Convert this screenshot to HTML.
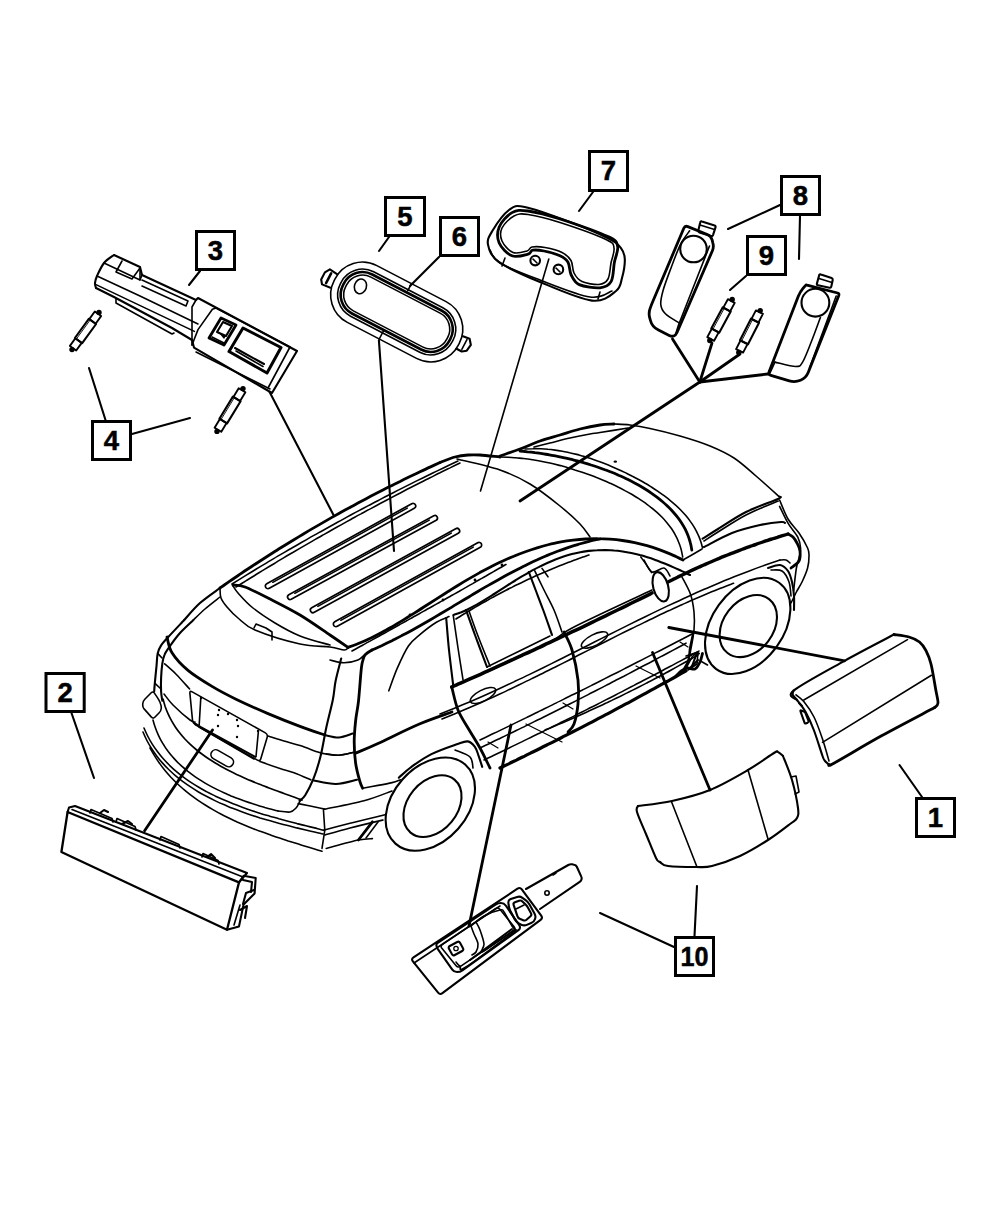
<!DOCTYPE html>
<html><head><meta charset="utf-8"><style>
html,body{margin:0;padding:0;background:#fff;width:1000px;height:1214px;overflow:hidden}
svg{display:block}
.t{fill:none;stroke:#000;stroke-width:1.6;stroke-linecap:round;stroke-linejoin:round}
.m{fill:none;stroke:#000;stroke-width:2.1;stroke-linecap:round;stroke-linejoin:round}
.k{fill:none;stroke:#000;stroke-width:2.8;stroke-linecap:round;stroke-linejoin:round}
.w{fill:#fff;stroke:#000;stroke-width:1.3;stroke-linejoin:round}
.box{fill:#fff;stroke:#000;stroke-width:3}
.lbl{font-family:"Liberation Sans",sans-serif;font-weight:bold;font-size:27.5px;text-anchor:middle;stroke:#000;stroke-width:0.5}
</style></head><body>
<svg width="1000" height="1214" viewBox="0 0 1000 1214">
<path class="m" d="M200.0,271.0 L189.0,285.0"/>
<path class="m" d="M389.0,237.0 L379.0,251.0"/>
<path class="m" d="M439.0,257.0 L410.0,286.0"/>
<path class="m" d="M593.0,192.0 L579.0,211.0"/>
<path class="m" d="M780.0,205.0 L728.0,229.0"/>
<path class="m" d="M800.0,216.0 L799.0,259.0"/>
<path class="m" d="M746.0,276.0 L730.0,290.0"/>
<path class="m" d="M105.5,420.0 L89.0,368.0"/>
<path class="m" d="M132.0,434.0 L190.0,418.0"/>
<path class="m" d="M71.5,713.0 L94.0,778.0"/>
<path class="m" d="M922.0,797.0 L899.5,765.0"/>
<path class="m" d="M674.0,947.0 L600.0,913.0"/>
<path class="m" d="M694.5,936.0 L697.0,886.0"/>
<rect class="box" x="916.5" y="798.5" width="38.0" height="38.0"/>
<text class="lbl" x="935.5" y="826.8">1</text>
<rect class="box" x="46.0" y="673.5" width="38.2" height="38.0"/>
<text class="lbl" x="65.1" y="701.8">2</text>
<rect class="box" x="196.5" y="231.5" width="38.0" height="38.0"/>
<text class="lbl" x="215.5" y="259.8">3</text>
<rect class="box" x="92.5" y="421.5" width="38.0" height="38.0"/>
<text class="lbl" x="111.5" y="449.8">4</text>
<rect class="box" x="385.5" y="197.5" width="39.0" height="38.0"/>
<text class="lbl" x="405.0" y="225.8">5</text>
<rect class="box" x="440.5" y="217.5" width="38.0" height="38.0"/>
<text class="lbl" x="459.5" y="245.8">6</text>
<rect class="box" x="589.5" y="151.5" width="38.0" height="39.0"/>
<text class="lbl" x="608.5" y="180.3">7</text>
<rect class="box" x="781.5" y="176.5" width="38.0" height="38.0"/>
<text class="lbl" x="800.5" y="204.8">8</text>
<rect class="box" x="747.5" y="236.5" width="38.0" height="38.0"/>
<text class="lbl" x="766.5" y="264.8">9</text>
<rect class="box" x="675.5" y="937.5" width="38.0" height="38.0"/>
<text class="lbl" x="694.5" y="965.8" textLength="28" lengthAdjust="spacingAndGlyphs">10</text>
<path class="m" d="M184.2,620.0 C186.8,617.2 194.0,608.3 200.0,603.0 C206.0,597.7 216.7,590.5 220.0,588.0"/>
<path class="k" d="M220.0,588.0 C221.5,586.9 226.1,583.8 229.1,581.7 C232.1,579.6 235.2,577.5 238.2,575.5 C241.3,573.4 244.3,571.3 247.4,569.3 C250.5,567.3 253.5,565.2 256.6,563.2 C259.7,561.2 262.8,559.2 265.9,557.2 C269.0,555.2 272.1,553.3 275.2,551.3 C278.3,549.3 281.4,547.4 284.5,545.5 C287.7,543.5 290.8,541.6 293.9,539.7 C297.1,537.8 300.2,535.9 303.4,534.0 C306.5,532.1 309.7,530.2 312.8,528.4 C316.0,526.5 319.2,524.7 322.4,522.9 C325.5,521.0 328.7,519.2 331.9,517.4 C335.1,515.6 338.3,513.8 341.5,512.0 C344.8,510.2 348.0,508.5 351.2,506.7 C354.4,505.0 357.6,503.2 360.9,501.5 C364.1,499.8 367.4,498.0 370.6,496.3 C373.9,494.6 377.1,493.0 380.4,491.3 C383.7,489.6 386.9,487.9 390.2,486.3 C393.5,484.6 396.8,483.0 400.1,481.4 C403.4,479.7 406.7,478.1 410.0,476.5 C413.3,474.9 416.6,473.4 420.0,471.8 C423.3,470.2 426.6,468.6 430.0,467.1 C433.3,465.6 438.3,463.3 440.0,462.5"/>
<path class="k" d="M440.0,462.5 C442.5,461.6 450.3,458.2 455.0,457.0 C459.7,455.8 463.8,455.3 468.0,455.0 C472.2,454.7 474.7,454.7 480.0,455.0 C485.3,455.3 496.7,456.7 500.0,457.0"/>
<path class="t" d="M232.0,584.0 C233.6,583.0 238.4,580.0 241.5,578.1 C244.7,576.1 247.9,574.2 251.1,572.2 C254.3,570.3 257.5,568.3 260.7,566.4 C263.9,564.5 267.1,562.6 270.3,560.6 C273.5,558.7 276.7,556.8 280.0,554.9 C283.2,553.0 286.4,551.2 289.6,549.3 C292.9,547.4 296.1,545.5 299.3,543.7 C302.6,541.8 305.8,540.0 309.0,538.1 C312.3,536.3 315.5,534.4 318.8,532.6 C322.0,530.8 325.3,529.0 328.6,527.2 C331.8,525.4 335.1,523.6 338.4,521.8 C341.6,520.0 344.9,518.2 348.2,516.4 C351.5,514.6 354.8,512.9 358.0,511.1 C361.3,509.4 364.6,507.6 367.9,505.9 C371.2,504.1 374.5,502.4 377.8,500.7 C381.1,499.0 384.4,497.2 387.8,495.5 C391.1,493.8 394.4,492.1 397.7,490.4 C401.0,488.8 404.4,487.1 407.7,485.4 C411.0,483.7 414.4,482.1 417.7,480.4 C421.0,478.8 424.4,477.1 427.7,475.5 C431.1,473.9 434.4,472.2 437.8,470.6 C441.2,469.0 444.5,467.4 447.9,465.8 C451.3,464.2 456.3,461.8 458.0,461.0"/>
<path class="t" d="M236.0,587.0 C237.6,586.0 242.3,583.1 245.5,581.1 C248.6,579.1 251.8,577.2 255.0,575.2 C258.1,573.3 261.3,571.4 264.5,569.4 C267.7,567.5 270.8,565.6 274.0,563.7 C277.2,561.7 280.4,559.8 283.6,557.9 C286.8,556.0 290.0,554.1 293.2,552.3 C296.4,550.4 299.6,548.5 302.8,546.6 C306.0,544.8 309.2,542.9 312.4,541.1 C315.6,539.2 318.9,537.4 322.1,535.5 C325.3,533.7 328.6,531.9 331.8,530.0 C335.0,528.2 338.3,526.4 341.5,524.6 C344.7,522.8 348.0,521.0 351.2,519.2 C354.5,517.4 357.7,515.6 361.0,513.9 C364.3,512.1 367.5,510.3 370.8,508.6 C374.1,506.8 377.3,505.1 380.6,503.3 C383.9,501.6 387.2,499.8 390.4,498.1 C393.7,496.4 397.0,494.7 400.3,493.0 C403.6,491.2 406.9,489.5 410.2,487.8 C413.5,486.1 416.8,484.5 420.1,482.8 C423.4,481.1 426.7,479.4 430.0,477.8 C433.4,476.1 436.7,474.4 440.0,472.8 C443.3,471.1 446.7,469.5 450.0,467.9 C453.3,466.2 458.3,463.8 460.0,463.0"/>
<path class="t" d="M193.4,620.0 C195.3,618.2 200.6,612.8 205.0,609.0 C209.4,605.2 217.5,599.0 220.0,597.0"/>
<path d="M269.3,588.3 L414.3,508.3 A2.6,2.6 0 0 0 411.7,503.7 L266.7,583.7 A2.6,2.6 0 0 0 269.3,588.3 Z" style="fill:#fff;stroke:#000;stroke-width:1.7"/>
<path class="t" d="M272.8,582.3 L407.3,508.1" style="stroke-width:1.5"/>
<path d="M291.2,599.3 L436.2,520.3 A2.6,2.6 0 0 0 433.8,515.7 L288.8,594.7 A2.6,2.6 0 0 0 291.2,599.3 Z" style="fill:#fff;stroke:#000;stroke-width:1.7"/>
<path class="t" d="M294.8,593.3 L429.3,520.1" style="stroke-width:1.5"/>
<path d="M314.3,612.3 L458.3,533.3 A2.6,2.6 0 0 0 455.7,528.7 L311.7,607.7 A2.6,2.6 0 0 0 314.3,612.3 Z" style="fill:#fff;stroke:#000;stroke-width:1.7"/>
<path class="t" d="M317.8,606.3 L451.3,533.1" style="stroke-width:1.5"/>
<path d="M337.3,626.3 L480.3,547.3 A2.6,2.6 0 0 0 477.7,542.7 L334.7,621.7 A2.6,2.6 0 0 0 337.3,626.3 Z" style="fill:#fff;stroke:#000;stroke-width:1.7"/>
<path class="t" d="M340.8,620.3 L473.3,547.1" style="stroke-width:1.5"/>
<path class="k" d="M233.0,585.0 C235.0,585.3 239.2,584.8 245.0,587.0 C250.8,589.2 258.8,593.3 268.0,598.0 C277.2,602.7 289.7,608.8 300.0,615.0 C310.3,621.2 322.0,629.6 330.0,635.0 C338.0,640.4 345.0,645.3 348.0,647.4"/>
<path class="t" d="M220.0,588.0 C220.2,589.7 219.8,594.8 221.0,598.0 C222.2,601.2 224.2,603.7 227.0,607.0 C229.8,610.3 233.3,614.2 238.0,618.0 C242.7,621.8 244.7,625.7 255.0,630.0 C265.3,634.3 287.5,641.2 300.0,644.0 C312.5,646.8 322.7,646.0 330.0,647.0 C337.3,648.0 341.0,649.8 344.0,650.0 C347.0,650.2 347.3,648.3 348.0,648.0"/>
<path class="t" d="M233.0,586.0 C233.8,587.2 234.7,589.3 238.0,593.0 C241.3,596.7 246.8,603.0 253.0,608.0 C259.2,613.0 267.2,618.3 275.0,623.0 C282.8,627.7 290.8,632.3 300.0,636.0 C309.2,639.7 325.0,643.5 330.0,645.0"/>
<path class="t" d="M254.0,628.0 L256.0,624.0 L266.0,628.0 L272.0,632.0 L272.0,640.0"/>
<path class="t" d="M330.0,660.0 C332.3,660.5 339.3,662.8 344.0,662.8 C348.7,662.8 354.5,661.4 358.0,660.0 C361.5,658.6 363.8,655.3 365.0,654.4"/>
<path class="k" d="M167.0,637.0 C167.8,639.6 168.5,647.2 172.0,652.8 C175.5,658.4 181.3,664.8 188.0,670.4 C194.7,676.0 204.0,681.6 212.0,686.4 C220.0,691.2 226.7,694.7 236.0,699.2 C245.3,703.7 257.3,709.1 268.0,713.6 C278.7,718.1 290.5,722.8 300.0,726.4 C309.5,730.0 320.7,733.6 324.8,735.0"/>
<path class="m" d="M324.8,735.0 C327.1,735.4 334.1,737.7 338.8,737.5 C343.5,737.3 350.5,734.2 352.8,733.6"/>
<path class="m" d="M184.2,620.0 C181.5,622.9 171.8,633.1 168.0,637.3 C164.2,641.5 162.8,642.7 161.1,645.4 C159.4,648.1 158.5,649.9 157.7,653.4 C156.9,656.9 157.0,661.1 156.5,666.1 C156.0,671.1 155.2,679.2 154.8,683.4 C154.4,687.6 154.3,690.1 154.2,691.5"/>
<path class="m" d="M193.4,620.0 C191.2,622.2 183.8,628.8 180.0,633.0 C176.2,637.2 173.0,641.8 170.4,645.4 C167.8,649.0 165.9,651.5 164.6,654.6 C163.2,657.7 162.9,659.9 162.3,663.8 C161.7,667.6 161.3,673.1 161.1,677.7 C160.9,682.3 160.9,687.7 161.1,691.5 C161.3,695.3 162.1,699.2 162.3,700.7"/>
<path class="t" d="M157.7,653.4 L162.0,658.0"/>
<path class="t" d="M155.0,683.4 L161.0,689.0"/>
<path class="t" d="M154.4,693.1 Q153.0,691.0 151.2,692.8 L144.8,699.2 Q143.0,701.0 142.8,703.5 L142.7,704.5 Q142.5,707.0 144.1,708.9 L151.4,717.1 Q153.0,719.0 154.8,717.2 L159.2,712.8 Q161.0,711.0 161.2,708.5 L161.3,708.5 Q161.5,706.0 160.5,703.7 L160.0,702.3 Q159.0,700.0 157.6,697.9Z"/>
<path class="t" d="M164.6,663.8 C166.5,665.5 171.9,670.0 176.1,674.2 C180.3,678.4 187.3,686.5 189.6,689.0"/>
<path class="t" d="M268.0,736.0 C270.7,736.8 278.7,739.4 284.0,741.0 C289.3,742.6 294.3,743.8 300.0,745.6 C305.7,747.4 313.7,750.6 318.0,752.0 C322.3,753.4 322.5,753.5 326.0,754.0 C329.5,754.5 334.3,755.5 338.8,755.3 C343.3,755.0 350.5,753.0 352.8,752.5"/>
<path class="t" d="M164.0,694.0 C165.5,695.8 168.7,700.7 173.0,705.0 C177.3,709.3 186.3,717.2 190.0,720.0 C193.7,722.8 194.2,721.7 195.0,722.0"/>
<path class="t" d="M260.0,761.6 C263.3,762.8 274.3,766.7 280.0,768.6 C285.7,770.5 288.9,770.9 294.0,772.8 C299.1,774.7 308.0,778.6 310.8,779.8"/>
<path class="m" d="M163.0,699.0 C163.4,700.3 164.4,704.2 165.2,706.7 C166.1,709.1 167.0,711.5 168.1,713.9 C169.1,716.2 170.3,718.5 171.5,720.7 C172.7,722.9 174.1,725.1 175.5,727.2 C176.9,729.3 178.4,731.3 180.0,733.2 C181.5,735.2 183.2,737.1 184.9,739.0 C186.6,740.8 188.4,742.6 190.3,744.4 C192.1,746.1 194.1,747.8 196.1,749.5 C198.0,751.1 200.1,752.7 202.2,754.2 C204.3,755.8 206.4,757.3 208.6,758.8 C210.8,760.2 213.0,761.6 215.3,763.0 C217.5,764.4 219.9,765.7 222.2,767.0 C224.5,768.3 226.9,769.6 229.3,770.8 C231.7,772.0 234.1,773.2 236.6,774.4 C239.0,775.5 241.5,776.6 243.9,777.7 C246.4,778.8 248.9,779.9 251.3,780.9 C253.8,782.0 256.3,783.0 258.8,784.0 C261.3,785.0 263.8,785.9 266.3,786.9 C268.7,787.8 271.2,788.8 273.7,789.7 C276.1,790.6 278.6,791.5 281.0,792.4 C283.4,793.3 285.8,794.1 288.2,795.0 C290.5,795.8 292.9,796.7 295.2,797.5 C297.5,798.4 300.9,799.6 302.0,800.0" style="stroke-width:1.7"/>
<path class="t" d="M153.0,720.0 C153.3,721.2 154.3,724.7 155.1,727.0 C155.9,729.2 156.7,731.4 157.7,733.6 C158.6,735.7 159.6,737.8 160.7,739.9 C161.8,741.9 163.0,743.9 164.3,745.8 C165.5,747.8 166.8,749.6 168.2,751.5 C169.6,753.3 171.0,755.1 172.5,756.8 C174.0,758.6 175.6,760.2 177.2,761.9 C178.9,763.5 180.5,765.1 182.3,766.7 C184.0,768.2 185.8,769.7 187.6,771.2 C189.4,772.6 191.3,774.0 193.2,775.4 C195.1,776.8 197.1,778.1 199.1,779.4 C201.1,780.7 203.1,781.9 205.1,783.1 C207.2,784.3 209.3,785.5 211.4,786.6 C213.5,787.8 215.7,788.9 217.8,789.9 C220.0,791.0 222.2,792.0 224.4,793.0 C226.6,794.0 228.8,794.9 231.0,795.9 C233.3,796.8 235.5,797.7 237.8,798.5 C240.0,799.4 242.3,800.2 244.5,801.0 C246.8,801.8 249.1,802.6 251.3,803.3 C253.6,804.1 255.8,804.8 258.1,805.5 C260.3,806.2 262.6,806.8 264.8,807.5 C267.0,808.1 269.3,808.7 271.5,809.3 C273.7,809.9 276.9,810.7 278.0,811.0"/>
<path class="t" d="M278.0,811.0 C280.0,811.2 287.0,812.5 290.0,812.0 C293.0,811.5 294.3,809.8 296.0,808.0 C297.7,806.2 299.3,802.2 300.0,801.0"/>
<path class="t" d="M144.0,728.0 C144.6,729.4 146.5,733.7 147.9,736.5 C149.3,739.2 150.8,741.8 152.4,744.4 C154.0,747.0 155.8,749.4 157.6,751.8 C159.4,754.2 161.3,756.6 163.3,758.8 C165.3,761.1 167.4,763.2 169.5,765.3 C171.7,767.4 173.9,769.5 176.2,771.4 C178.5,773.4 180.9,775.3 183.4,777.1 C185.8,778.9 188.3,780.7 190.9,782.4 C193.5,784.1 196.1,785.7 198.8,787.3 C201.5,788.9 204.3,790.4 207.0,791.9 C209.8,793.4 212.7,794.8 215.5,796.2 C218.4,797.5 221.3,798.9 224.2,800.1 C227.2,801.4 230.1,802.6 233.1,803.8 C236.1,805.0 239.1,806.1 242.2,807.2 C245.2,808.3 248.3,809.4 251.3,810.4 C254.4,811.4 257.4,812.4 260.5,813.4 C263.6,814.4 266.7,815.3 269.7,816.2 C272.8,817.1 275.9,817.9 278.9,818.8 C282.0,819.6 285.0,820.4 288.0,821.2 C291.1,822.0 294.1,822.8 297.0,823.6 C300.0,824.3 303.0,825.1 305.9,825.8 C308.8,826.5 311.7,827.2 314.6,827.9 C317.4,828.6 321.6,829.7 323.0,830.0"/>
<path class="t" d="M143.0,732.0 C143.6,733.4 145.5,737.7 146.9,740.5 C148.3,743.2 149.9,745.9 151.5,748.5 C153.1,751.0 154.9,753.5 156.7,755.9 C158.5,758.3 160.4,760.7 162.4,762.9 C164.4,765.2 166.5,767.4 168.7,769.5 C170.9,771.6 173.1,773.7 175.4,775.6 C177.8,777.6 180.2,779.5 182.6,781.4 C185.1,783.2 187.6,785.0 190.2,786.7 C192.8,788.4 195.4,790.1 198.1,791.7 C200.8,793.3 203.6,794.8 206.4,796.3 C209.2,797.8 212.0,799.2 214.9,800.6 C217.8,802.0 220.7,803.3 223.7,804.6 C226.6,805.8 229.6,807.1 232.6,808.3 C235.6,809.5 238.6,810.6 241.7,811.7 C244.7,812.8 247.8,813.9 250.8,814.9 C253.9,815.9 257.0,816.9 260.1,817.9 C263.2,818.8 266.3,819.7 269.4,820.6 C272.4,821.5 275.5,822.4 278.6,823.2 C281.7,824.0 284.7,824.8 287.8,825.6 C290.8,826.4 293.8,827.1 296.8,827.9 C299.8,828.6 302.8,829.3 305.8,830.0 C308.7,830.7 311.6,831.4 314.5,832.0 C317.4,832.7 321.6,833.7 323.0,834.0"/>
<path class="t" d="M150.0,748.0 C150.8,749.3 153.0,753.4 154.6,755.9 C156.2,758.5 157.8,761.0 159.6,763.4 C161.3,765.9 163.1,768.2 165.0,770.5 C166.9,772.8 168.9,775.0 170.9,777.2 C172.9,779.3 175.0,781.4 177.1,783.5 C179.2,785.5 181.4,787.4 183.7,789.4 C185.9,791.3 188.2,793.1 190.5,794.9 C192.9,796.7 195.3,798.4 197.7,800.1 C200.2,801.8 202.7,803.4 205.2,805.0 C207.7,806.6 210.3,808.2 212.9,809.6 C215.5,811.1 218.1,812.6 220.8,814.0 C223.4,815.4 226.1,816.7 228.8,818.0 C231.6,819.4 234.3,820.6 237.1,821.9 C239.9,823.1 242.6,824.3 245.4,825.5 C248.3,826.7 251.1,827.8 253.9,828.9 C256.7,830.0 259.6,831.1 262.5,832.1 C265.3,833.2 268.2,834.2 271.0,835.2 C273.9,836.2 276.8,837.2 279.6,838.1 C282.5,839.1 285.4,840.0 288.2,840.9 C291.1,841.8 294.0,842.7 296.8,843.6 C299.6,844.5 302.5,845.3 305.3,846.2 C308.1,847.1 310.9,847.9 313.7,848.7 C316.5,849.6 320.6,850.8 322.0,851.2"/>
<path class="t" d="M298.2,803.6 C302.2,804.4 317.6,807.6 322.0,808.5 C326.4,809.4 324.3,809.1 324.8,809.2"/>
<path class="m" d="M313.6,780.5 C317.3,781.1 328.8,784.1 336.0,784.0 C343.2,783.9 353.5,780.5 357.0,779.8"/>
<path class="t" d="M326.2,753.9 C328.3,754.1 334.4,755.5 338.8,755.3 C343.2,755.1 350.5,753.0 352.8,752.5"/>
<path class="t" d="M323.4,809.2 L324.8,830.2 L322.0,848.4"/>
<path class="t" d="M324.8,809.2 C331.3,807.8 352.8,803.8 364.0,800.8 C375.2,797.8 387.3,792.6 392.0,791.0"/>
<path class="t" d="M323.4,830.2 C327.8,829.0 339.7,825.8 350.0,823.2 C360.3,820.6 379.2,816.2 385.0,814.8"/>
<path class="t" d="M325.0,835.0 C329.2,833.8 340.3,830.5 350.0,828.0 C359.7,825.5 377.5,821.3 383.0,820.0"/>
<path class="t" d="M326.2,848.4 C331.6,847.0 350.7,841.6 358.4,840.0 C366.1,838.4 370.1,838.8 372.4,838.6"/>
<path class="k" d="M358.4,840.0 L372.4,821.8"/>
<path class="t" d="M366.0,838.0 L378.0,822.0"/>
<path class="t" d="M189.9,693.4 Q189.6,690.4 192.2,691.9 L265.4,732.9 Q268.0,734.4 267.2,737.3 L260.8,758.7 Q260.0,761.6 257.4,760.1 L195.4,724.7 Q192.8,723.2 192.5,720.2Z"/>
<path class="t" d="M200.8,697.6 L199.2,724.8"/>
<path class="t" d="M258.4,731.2 L256.0,756.8"/>
<path class="m" d="M194.4,723.2 L200.8,727.2 L255.2,756.8"/>
<path class="t" d="M199.0,727.0 L254.0,759.0"/>
<circle cx="219" cy="710" r="1.2"/>
<circle cx="228" cy="714" r="1.2"/>
<circle cx="237" cy="720" r="1.2"/>
<circle cx="218" cy="715" r="1.2"/>
<circle cx="238" cy="726" r="1.2"/>
<circle cx="237" cy="737" r="1.2"/>
<circle cx="201" cy="698" r="1.2"/>
<circle cx="258" cy="731" r="1.2"/>
<circle cx="218" cy="726" r="1.2"/>
<rect class="t" x="210" y="753.5" width="24.5" height="9.5" rx="4.7" transform="rotate(30 222.2 758.2)"/>
<path class="m" d="M341.2,658.6 C340.3,662.3 337.0,674.1 335.6,681.0 C334.2,687.9 334.4,692.2 332.8,700.0 C331.2,707.8 328.2,718.7 326.2,728.0 C324.2,737.3 322.7,747.6 320.6,756.0 C318.5,764.4 316.2,771.9 313.6,778.4 C311.0,784.9 307.5,791.5 305.2,795.2 C302.9,798.9 300.5,799.9 299.6,800.8"/>
<path class="k" d="M362.6,788.2 C362.1,787.0 361.0,785.4 359.8,781.2 C358.6,777.0 356.5,769.5 355.6,763.0 C354.7,756.5 354.2,749.0 354.2,742.0 C354.2,735.0 354.9,727.7 355.6,721.0 C356.3,714.3 357.5,709.8 358.4,702.0 C359.3,694.2 360.2,680.5 360.8,674.0 C361.4,667.5 361.5,666.0 362.2,662.8 C362.9,659.6 363.4,657.1 365.0,655.0 C366.6,652.9 370.8,650.8 372.0,650.0"/>
<path class="k" d="M372.0,650.0 C373.7,649.2 378.7,647.0 382.1,645.5 C385.4,643.9 388.7,642.3 392.0,640.7 C395.3,639.0 398.6,637.4 401.8,635.6 C405.1,633.9 408.3,632.2 411.6,630.4 C414.8,628.6 418.1,626.8 421.3,625.0 C424.5,623.2 427.7,621.3 430.9,619.5 C434.1,617.6 437.3,615.7 440.5,613.8 C443.7,611.9 446.9,610.0 450.1,608.1 C453.2,606.2 456.4,604.3 459.6,602.4 C462.8,600.5 466.0,598.6 469.2,596.7 C472.3,594.8 475.5,592.9 478.7,591.0 C481.9,589.1 485.1,587.2 488.3,585.4 C491.5,583.5 494.7,581.7 498.0,579.9 C501.2,578.1 504.4,576.3 507.7,574.5 C510.9,572.8 514.2,571.1 517.4,569.4 C520.7,567.7 524.0,566.0 527.3,564.4 C530.6,562.8 533.9,561.3 537.3,559.8 C540.6,558.2 544.0,556.8 547.3,555.4 C550.7,554.0 554.1,552.6 557.6,551.3 C561.0,550.0 564.4,548.8 567.9,547.6 C571.4,546.4 574.9,545.3 578.4,544.3 C582.0,543.3 585.5,542.3 589.1,541.4 C592.7,540.5 598.2,539.4 600.0,539.0"/>
<path class="t" d="M362.6,788.2 C365.2,787.7 373.1,786.3 378.0,785.4 C382.9,784.5 388.3,783.5 392.0,782.6 C395.7,781.7 399.0,780.3 400.4,779.8"/>
<path class="k" d="M348.0,647.4 C349.9,646.7 355.8,644.6 359.6,643.0 C363.5,641.4 367.2,639.7 371.0,637.9 C374.7,636.1 378.4,634.2 382.1,632.2 C385.8,630.3 389.4,628.2 393.1,626.1 C396.7,624.0 400.3,621.8 403.9,619.6 C407.5,617.4 411.1,615.2 414.7,612.9 C418.3,610.6 421.9,608.3 425.4,606.0 C429.0,603.7 432.6,601.4 436.2,599.1 C439.8,596.8 443.4,594.5 447.0,592.2 C450.6,589.9 454.2,587.7 457.8,585.5 C461.5,583.2 465.1,581.0 468.8,578.9 C472.4,576.8 476.1,574.7 479.8,572.6 C483.5,570.6 487.3,568.6 491.0,566.7 C494.8,564.8 498.5,562.9 502.3,561.2 C506.1,559.4 509.9,557.7 513.8,556.2 C517.6,554.6 521.5,553.1 525.4,551.7 C529.3,550.3 533.2,549.0 537.1,547.8 C541.1,546.6 545.0,545.5 549.0,544.5 C553.0,543.5 557.0,542.7 561.0,541.9 C565.0,541.2 569.1,540.6 573.1,540.1 C577.2,539.6 581.3,539.2 585.4,539.0 C589.5,538.8 593.6,538.6 597.7,538.7 C601.8,538.7 605.9,538.9 610.0,539.2 C614.1,539.5 618.2,539.9 622.4,540.5 C626.5,541.1 630.6,541.8 634.7,542.7 C638.8,543.6 642.9,544.6 647.0,545.7 C651.1,546.9 655.1,548.2 659.2,549.6 C663.2,551.1 667.2,552.7 671.2,554.4 C675.2,556.1 681.0,559.1 683.0,560.0"/>
<path class="t" d="M352.0,651.0 C353.1,650.4 356.5,648.5 358.7,647.3 C361.0,646.1 363.2,644.8 365.5,643.6 C367.7,642.4 369.9,641.1 372.2,639.9 C374.4,638.7 376.7,637.4 378.9,636.2 C381.1,634.9 383.4,633.7 385.6,632.5 C387.9,631.2 390.1,630.0 392.3,628.7 C394.6,627.5 396.8,626.3 399.0,625.0 C401.3,623.8 403.5,622.5 405.8,621.3 C408.0,620.0 410.2,618.8 412.5,617.5 C414.7,616.3 416.9,615.0 419.2,613.8 C421.4,612.5 423.6,611.3 425.9,610.0 C428.1,608.8 430.3,607.5 432.6,606.3 C434.8,605.0 437.0,603.8 439.3,602.5 C441.5,601.2 443.7,600.0 445.9,598.7 C448.2,597.5 450.4,596.2 452.6,595.0 C454.9,593.7 457.1,592.4 459.3,591.2 C461.5,589.9 463.8,588.6 466.0,587.4 C468.2,586.1 470.4,584.8 472.7,583.6 C474.9,582.3 477.1,581.0 479.3,579.8 C481.6,578.5 483.8,577.2 486.0,576.0 C488.2,574.7 490.5,573.4 492.7,572.1 C494.9,570.9 497.1,569.6 499.3,568.3 C501.6,567.1 504.9,565.1 506.0,564.5"/>
<circle cx="410" cy="615" r="1.4"/>
<circle cx="443" cy="600" r="1.4"/>
<circle cx="475" cy="580" r="1.4"/>
<circle cx="502" cy="565" r="1.4"/>
<path class="t" d="M388.8,690.8 C390.2,687.1 393.9,675.9 397.2,668.4 C400.5,660.9 404.7,651.6 408.4,646.0 C412.1,640.4 414.9,638.8 419.6,634.8 C424.3,630.8 431.5,625.2 436.4,622.2 C441.3,619.2 446.9,617.5 449.0,616.6"/>
<path class="m" d="M446.2,618.0 C446.7,623.3 447.8,638.8 449.0,650.0 C450.2,661.2 452.5,679.3 453.2,685.2"/>
<path class="t" d="M453.2,615.2 C454.0,620.7 456.4,637.3 458.0,648.0 C459.6,658.7 462.2,674.3 463.0,679.6"/>
<path class="m" d="M453.6,615.0 C454.9,614.5 458.7,613.2 461.3,612.2 C463.9,611.1 466.4,610.0 469.0,608.7 C471.5,607.4 474.1,606.0 476.7,604.6 C479.2,603.2 481.8,601.7 484.3,600.1 C486.9,598.6 489.5,597.0 492.0,595.4 C494.6,593.7 497.2,592.1 499.7,590.4 C502.3,588.8 504.9,587.1 507.5,585.4 C510.1,583.8 512.7,582.1 515.3,580.5 C517.9,578.9 520.6,577.2 523.2,575.7 C525.8,574.1 528.5,572.6 531.1,571.1 C533.8,569.7 536.5,568.2 539.2,566.9 C541.8,565.5 544.5,564.2 547.2,563.0 C549.9,561.8 552.7,560.6 555.4,559.5 C558.1,558.5 560.8,557.5 563.6,556.6 C566.4,555.7 569.1,554.9 571.9,554.1 C574.7,553.4 577.4,552.8 580.2,552.2 C583.0,551.7 585.8,551.3 588.6,550.9 C591.5,550.6 594.3,550.3 597.1,550.2 C599.9,550.0 602.8,550.0 605.6,550.0 C608.5,550.1 611.3,550.2 614.1,550.5 C617.0,550.7 619.9,551.1 622.7,551.5 C625.6,551.9 628.4,552.4 631.3,553.0 C634.1,553.6 637.0,554.3 639.8,555.1 C642.7,555.8 645.5,556.7 648.4,557.6 C651.2,558.5 654.0,559.5 656.9,560.5 C659.7,561.6 662.5,562.7 665.3,563.8 C668.1,565.0 670.9,566.2 673.6,567.4 C676.4,568.6 679.2,569.9 681.9,571.1 C684.6,572.4 688.6,574.4 690.0,575.0"/>
<path class="t" d="M456.0,619.0 C456.9,618.4 459.7,616.7 461.5,615.5 C463.4,614.4 465.2,613.2 467.1,612.1 C468.9,611.0 470.8,609.9 472.6,608.8 C474.5,607.7 476.3,606.6 478.2,605.5 C480.1,604.4 482.0,603.3 483.8,602.3 C485.7,601.2 487.6,600.2 489.5,599.1 C491.3,598.1 493.2,597.0 495.1,596.0 C497.0,595.0 498.9,594.0 500.8,593.0 C502.7,592.0 504.6,591.0 506.5,590.0 C508.4,589.0 510.3,588.1 512.3,587.1 C514.2,586.1 516.1,585.2 518.0,584.3 C519.9,583.3 521.9,582.4 523.8,581.5 C525.7,580.6 527.7,579.6 529.6,578.8 C531.5,577.9 533.5,577.0 535.4,576.1 C537.4,575.2 539.3,574.4 541.3,573.5 C543.2,572.6 545.2,571.8 547.2,571.0 C549.1,570.1 551.1,569.3 553.1,568.5 C555.0,567.7 557.0,566.9 559.0,566.1 C561.0,565.3 563.0,564.5 564.9,563.7 C566.9,563.0 568.9,562.2 570.9,561.5 C572.9,560.7 574.9,560.0 576.9,559.2 C578.9,558.5 580.9,557.8 582.9,557.1 C585.0,556.4 588.0,555.3 589.0,555.0"/>
<path class="m" d="M466.0,610.0 C467.5,614.2 471.5,625.5 475.0,635.0 C478.5,644.5 485.0,661.7 487.0,667.0"/>
<path class="t" d="M469.0,611.0 C470.5,615.2 474.5,626.8 478.0,636.0 C481.5,645.2 488.0,661.0 490.0,666.0"/>
<path class="t" d="M487.0,667.0 C497.5,661.8 539.5,641.2 550.0,636.0"/>
<path class="m" d="M528.8,572.0 C530.0,575.2 533.6,584.7 536.0,591.0 C538.4,597.3 540.5,602.7 543.2,610.0 C545.9,617.3 550.5,630.8 552.0,635.0"/>
<path class="t" d="M534.8,570.8 C536.3,574.0 540.8,583.5 544.0,590.0 C547.2,596.5 551.0,603.0 554.0,610.0 C557.0,617.0 560.7,628.3 562.0,632.0"/>
<path class="t" d="M542.0,568.4 L548.0,576.8"/>
<path class="k" d="M451.8,687.0 C453.3,686.4 457.7,684.4 460.6,683.1 C463.5,681.8 466.5,680.5 469.4,679.2 C472.3,677.9 475.2,676.6 478.2,675.3 C481.1,674.0 484.0,672.6 486.9,671.3 C489.9,670.0 492.8,668.7 495.7,667.4 C498.6,666.0 501.5,664.7 504.5,663.4 C507.4,662.0 510.3,660.7 513.2,659.4 C516.1,658.0 519.0,656.7 521.9,655.4 C524.9,654.0 527.8,652.7 530.7,651.3 C533.6,650.0 536.5,648.6 539.4,647.3 C542.3,645.9 545.2,644.6 548.1,643.2 C551.0,641.8 553.9,640.5 556.8,639.1 C559.7,637.8 562.6,636.4 565.5,635.0 C568.4,633.6 571.3,632.3 574.2,630.9 C577.1,629.5 580.0,628.1 582.9,626.8 C585.8,625.4 588.7,624.0 591.5,622.6 C594.4,621.2 597.3,619.8 600.2,618.4 C603.1,617.0 606.0,615.6 608.9,614.2 C611.7,612.8 614.6,611.4 617.5,610.0 C620.4,608.6 623.3,607.2 626.1,605.8 C629.0,604.4 631.9,603.0 634.8,601.5 C637.6,600.1 640.5,598.7 643.4,597.3 C646.3,595.9 650.6,593.7 652.0,593.0" style="stroke-width:3.6"/>
<path class="t" d="M487.0,672.0 C497.5,667.0 535.5,649.5 550.0,642.0 C564.5,634.5 557.0,635.7 574.0,627.0 C591.0,618.3 639.0,596.2 652.0,590.0"/>
<path class="k" d="M668.0,582.0 C668.8,581.6 671.4,580.3 673.1,579.4 C674.8,578.6 676.4,577.8 678.1,576.9 C679.8,576.1 681.5,575.3 683.2,574.5 C684.9,573.6 686.6,572.8 688.3,572.0 C690.0,571.2 691.7,570.4 693.4,569.6 C695.2,568.9 696.9,568.1 698.6,567.3 C700.3,566.5 702.0,565.8 703.7,565.0 C705.4,564.2 707.2,563.5 708.9,562.7 C710.6,562.0 712.3,561.3 714.1,560.5 C715.8,559.8 717.5,559.1 719.2,558.4 C721.0,557.6 722.7,556.9 724.5,556.2 C726.2,555.5 727.9,554.8 729.7,554.1 C731.4,553.4 733.2,552.8 734.9,552.1 C736.6,551.4 738.4,550.7 740.1,550.1 C741.9,549.4 743.7,548.8 745.4,548.1 C747.2,547.5 748.9,546.8 750.7,546.2 C752.4,545.6 754.2,545.0 756.0,544.3 C757.7,543.7 759.5,543.1 761.3,542.5 C763.0,541.9 764.8,541.3 766.6,540.7 C768.4,540.1 770.1,539.5 771.9,539.0 C773.7,538.4 775.5,537.8 777.3,537.3 C779.0,536.7 780.8,536.2 782.6,535.6 C784.4,535.1 787.1,534.3 788.0,534.0" style="stroke-width:3.4"/>
<path class="k" d="M788.0,534.0 C788.8,534.5 791.5,535.5 793.0,537.0 C794.5,538.5 795.8,540.7 797.0,543.0 C798.2,545.3 799.7,548.0 800.0,551.0 C800.3,554.0 800.5,558.2 799.0,561.0 C797.5,563.8 792.3,566.8 791.0,568.0"/>
<path class="t" d="M640.8,557.0 C641.8,558.4 645.0,562.8 646.8,565.4 C648.6,568.0 650.8,571.4 651.6,572.6"/>
<path class="k" d="M452.0,688.0 C453.0,691.7 455.3,703.3 458.0,710.0 C460.7,716.7 464.3,721.7 468.0,728.0 C471.7,734.3 476.3,741.3 480.0,748.0 C483.7,754.7 488.3,764.7 490.0,768.0"/>
<path class="k" d="M564.0,632.0 C565.3,635.0 569.7,642.0 572.0,650.0 C574.3,658.0 577.0,671.0 578.0,680.0 C579.0,689.0 578.7,696.7 578.0,704.0 C577.3,711.3 575.7,719.3 574.0,724.0 C572.3,728.7 569.0,730.7 568.0,732.0"/>
<path class="k" d="M355.6,753.2 C359.3,751.6 367.3,748.3 378.0,743.4 C388.7,738.5 407.7,729.0 420.0,723.8 C432.3,718.6 446.7,714.0 452.0,712.0"/>
<path class="t" d="M440.0,714.0 C442.5,713.0 450.1,710.0 455.1,708.0 C460.1,705.9 465.1,703.8 470.1,701.7 C475.0,699.6 480.0,697.4 484.9,695.2 C489.9,693.0 494.8,690.8 499.7,688.5 C504.6,686.2 509.5,683.9 514.4,681.6 C519.3,679.3 524.2,677.0 529.1,674.6 C533.9,672.3 538.8,669.9 543.7,667.5 C548.5,665.1 553.4,662.7 558.2,660.3 C563.0,657.9 567.9,655.5 572.7,653.0 C577.5,650.6 582.4,648.2 587.2,645.7 C592.0,643.3 596.9,640.8 601.7,638.4 C606.5,636.0 611.4,633.5 616.2,631.1 C621.1,628.7 625.9,626.3 630.7,623.9 C635.6,621.5 640.4,619.1 645.3,616.7 C650.2,614.3 655.0,612.0 659.9,609.6 C664.8,607.3 669.7,605.0 674.6,602.7 C679.5,600.4 684.4,598.1 689.3,595.9 C694.3,593.7 699.2,591.5 704.2,589.3 C709.1,587.1 714.1,585.0 719.1,582.9 C724.1,580.8 729.1,578.8 734.1,576.8 C739.1,574.8 744.2,572.8 749.3,570.9 C754.3,569.0 759.4,567.1 764.6,565.3 C769.7,563.5 777.4,560.9 780.0,560.0"/>
<path class="t" d="M780.0,560.0 C781.0,560.0 784.3,559.5 786.0,560.0 C787.7,560.5 789.3,562.5 790.0,563.0"/>
<path class="t" d="M442.0,719.0 C444.2,718.1 450.7,715.5 455.0,713.8 C459.3,712.0 463.6,710.2 467.9,708.3 C472.1,706.5 476.4,704.6 480.7,702.7 C484.9,700.8 489.2,698.9 493.4,697.0 C497.6,695.0 501.9,693.1 506.1,691.1 C510.3,689.1 514.5,687.1 518.7,685.0 C522.9,683.0 527.1,681.0 531.3,678.9 C535.5,676.9 539.6,674.8 543.8,672.7 C548.0,670.7 552.1,668.6 556.3,666.5 C560.5,664.4 564.6,662.3 568.8,660.2 C573.0,658.1 577.1,655.9 581.3,653.8 C585.5,651.7 589.6,649.6 593.8,647.5 C597.9,645.4 602.1,643.3 606.3,641.2 C610.4,639.1 614.6,637.0 618.8,634.9 C623.0,632.8 627.1,630.8 631.3,628.7 C635.5,626.6 639.7,624.6 643.9,622.6 C648.1,620.5 652.3,618.5 656.5,616.5 C660.7,614.5 664.9,612.5 669.2,610.6 C673.4,608.6 677.6,606.7 681.9,604.7 C686.2,602.8 690.4,600.9 694.7,599.1 C699.0,597.2 703.3,595.4 707.6,593.6 C711.9,591.8 716.2,590.0 720.5,588.3 C724.9,586.6 731.4,584.0 733.6,583.2"/>
<path class="t" d="M480.0,740.0 C481.5,739.3 486.2,737.0 489.3,735.5 C492.4,734.0 495.5,732.6 498.6,731.1 C501.7,729.6 504.8,728.1 507.9,726.6 C511.0,725.1 514.0,723.6 517.1,722.1 C520.2,720.6 523.3,719.1 526.4,717.6 C529.5,716.0 532.6,714.5 535.7,713.0 C538.7,711.5 541.8,710.0 544.9,708.5 C548.0,707.0 551.1,705.5 554.2,703.9 C557.2,702.4 560.3,700.9 563.4,699.4 C566.5,697.8 569.6,696.3 572.6,694.8 C575.7,693.2 578.8,691.7 581.9,690.2 C584.9,688.6 588.0,687.1 591.1,685.6 C594.1,684.0 597.2,682.5 600.3,681.0 C603.4,679.4 606.4,677.9 609.5,676.3 C612.6,674.8 615.6,673.2 618.7,671.7 C621.7,670.1 624.8,668.6 627.9,667.0 C630.9,665.5 634.0,663.9 637.1,662.3 C640.1,660.8 643.2,659.2 646.2,657.6 C649.3,656.1 652.3,654.5 655.4,652.9 C658.5,651.4 661.5,649.8 664.6,648.2 C667.6,646.7 670.7,645.1 673.7,643.5 C676.8,641.9 679.8,640.3 682.9,638.8 C685.9,637.2 690.5,634.8 692.0,634.0"/>
<path class="t" d="M480.0,748.0 C481.5,747.3 486.1,745.1 489.1,743.7 C492.1,742.2 495.1,740.7 498.1,739.3 C501.2,737.8 504.2,736.4 507.2,734.9 C510.2,733.4 513.2,732.0 516.2,730.5 C519.2,729.0 522.2,727.6 525.3,726.1 C528.3,724.6 531.3,723.1 534.3,721.6 C537.3,720.2 540.3,718.7 543.3,717.2 C546.3,715.7 549.3,714.2 552.3,712.7 C555.3,711.2 558.3,709.7 561.3,708.2 C564.3,706.7 567.3,705.2 570.2,703.7 C573.2,702.2 576.2,700.7 579.2,699.1 C582.2,697.6 585.2,696.1 588.2,694.6 C591.2,693.1 594.1,691.5 597.1,690.0 C600.1,688.5 603.1,687.0 606.1,685.4 C609.0,683.9 612.0,682.3 615.0,680.8 C617.9,679.3 620.9,677.7 623.9,676.2 C626.9,674.6 629.8,673.1 632.8,671.5 C635.8,670.0 638.7,668.4 641.7,666.8 C644.7,665.3 647.6,663.7 650.6,662.2 C653.5,660.6 656.5,659.0 659.4,657.4 C662.4,655.9 665.4,654.3 668.3,652.7 C671.3,651.1 674.2,649.6 677.2,648.0 C680.1,646.4 684.5,644.0 686.0,643.2"/>
<path class="t" d="M484.0,760.0 C485.6,759.2 490.3,757.0 493.4,755.5 C496.6,754.0 499.7,752.5 502.9,751.0 C506.0,749.5 509.2,747.9 512.3,746.4 C515.4,744.9 518.6,743.4 521.7,741.9 C524.8,740.3 528.0,738.8 531.1,737.3 C534.2,735.7 537.4,734.2 540.5,732.7 C543.6,731.1 546.7,729.6 549.9,728.1 C553.0,726.5 556.1,725.0 559.2,723.4 C562.3,721.9 565.4,720.3 568.6,718.8 C571.7,717.2 574.8,715.6 577.9,714.1 C581.0,712.5 584.1,711.0 587.2,709.4 C590.3,707.8 593.4,706.3 596.5,704.7 C599.6,703.1 602.7,701.5 605.8,699.9 C608.9,698.4 612.0,696.8 615.1,695.2 C618.2,693.6 621.3,692.0 624.3,690.4 C627.4,688.8 630.5,687.2 633.6,685.6 C636.7,684.0 639.8,682.4 642.8,680.8 C645.9,679.2 649.0,677.6 652.1,676.0 C655.1,674.4 658.2,672.8 661.3,671.2 C664.3,669.5 667.4,667.9 670.5,666.3 C673.5,664.7 676.6,663.1 679.7,661.4 C682.7,659.8 685.8,658.2 688.8,656.5 C691.9,654.9 696.5,652.4 698.0,651.6"/>
<path class="t" d="M545.0,730.0 C546.1,729.5 549.6,728.1 551.9,727.2 C554.2,726.2 556.4,725.2 558.7,724.3 C561.0,723.3 563.3,722.3 565.5,721.4 C567.8,720.4 570.1,719.4 572.4,718.4 C574.6,717.4 576.9,716.4 579.1,715.4 C581.4,714.4 583.7,713.4 585.9,712.4 C588.2,711.4 590.4,710.4 592.7,709.3 C594.9,708.3 597.1,707.3 599.4,706.2 C601.6,705.2 603.9,704.1 606.1,703.1 C608.3,702.0 610.6,701.0 612.8,699.9 C615.0,698.8 617.2,697.7 619.5,696.7 C621.7,695.6 623.9,694.5 626.1,693.4 C628.3,692.3 630.5,691.2 632.7,690.1 C635.0,689.0 637.2,687.9 639.4,686.8 C641.6,685.6 643.8,684.5 646.0,683.4 C648.1,682.3 650.3,681.1 652.5,680.0 C654.7,678.8 656.9,677.7 659.1,676.5 C661.3,675.4 663.4,674.2 665.6,673.0 C667.8,671.9 670.0,670.7 672.1,669.5 C674.3,668.3 676.5,667.1 678.6,665.9 C680.8,664.7 683.0,663.5 685.1,662.3 C687.3,661.1 689.4,659.9 691.6,658.7 C693.7,657.5 696.9,655.6 698.0,655.0"/>
<path class="k" d="M500.0,768.0 C501.4,767.3 505.5,765.4 508.2,764.1 C510.9,762.7 513.7,761.4 516.4,760.1 C519.1,758.7 521.9,757.4 524.6,756.1 C527.3,754.7 530.0,753.4 532.8,752.0 C535.5,750.7 538.2,749.4 540.9,748.0 C543.6,746.6 546.3,745.3 549.1,743.9 C551.8,742.6 554.5,741.2 557.2,739.8 C559.9,738.4 562.6,737.1 565.3,735.7 C568.0,734.3 570.7,732.9 573.4,731.5 C576.2,730.2 578.9,728.8 581.6,727.4 C584.3,726.0 587.0,724.6 589.7,723.2 C592.4,721.8 595.0,720.3 597.7,718.9 C600.4,717.5 603.1,716.1 605.8,714.7 C608.5,713.3 611.2,711.8 613.9,710.4 C616.6,709.0 619.3,707.5 621.9,706.1 C624.6,704.7 627.3,703.2 630.0,701.8 C632.7,700.3 635.3,698.9 638.0,697.4 C640.7,696.0 643.4,694.5 646.0,693.1 C648.7,691.6 651.4,690.1 654.1,688.7 C656.7,687.2 659.4,685.7 662.1,684.2 C664.7,682.7 667.4,681.3 670.0,679.8 C672.7,678.3 675.4,676.8 678.0,675.3 C680.7,673.8 684.7,671.5 686.0,670.8" style="stroke-width:3.2"/>
<path class="t" d="M488.0,742.0 L498.0,748.0" style="stroke-width:1.2"/>
<path class="t" d="M526.0,724.0 L562.0,742.0" style="stroke-width:1.2"/>
<path class="t" d="M563.0,703.0 L573.0,709.0" style="stroke-width:1.2"/>
<path class="t" d="M636.0,666.0 L660.0,678.0" style="stroke-width:1.2"/>
<path class="t" d="M680.0,642.0 L688.0,647.0" style="stroke-width:1.2"/>
<ellipse class="t" cx="483" cy="695.5" rx="14" ry="5.5" transform="rotate(-27 483 695.5)"/>
<ellipse class="t" cx="594.5" cy="640" rx="14.5" ry="5.5" transform="rotate(-27 594.5 640)"/>
<ellipse class="m" cx="660.7" cy="586.8" rx="7.5" ry="15" transform="rotate(-15 660.7 586.8)"/>
<path class="t" d="M644.0,560.0 C645.3,562.0 648.7,570.7 652.0,572.0 C655.3,573.3 661.0,567.3 664.0,568.0 C667.0,568.7 669.0,574.7 670.0,576.0"/>
<ellipse class="m" cx="430.3" cy="804.1" rx="52.7" ry="37.2" transform="rotate(-48.6 430.3 804.1)"/>
<ellipse class="m" cx="432.5" cy="806.1" rx="34.4" ry="24.7" transform="rotate(-50.3 432.5 806.1)"/>
<path class="m" d="M398.8,777.7 C400.9,775.9 406.1,770.7 411.5,766.8 C416.9,762.9 423.8,757.9 431.4,754.1 C438.9,750.3 450.8,746.3 456.8,744.2 C462.9,742.1 464.7,741.0 467.7,741.4 C470.7,741.8 473.1,744.5 474.9,746.9 C476.7,749.3 477.4,752.6 478.6,755.9 C479.8,759.2 481.6,765.0 482.2,766.8"/>
<path class="t" d="M455.0,750.0 C457.5,751.2 467.0,754.0 470.0,757.0 C473.0,760.0 472.5,766.2 473.0,768.0"/>
<ellipse class="m" cx="747.7" cy="625.9" rx="53.4" ry="35.7" transform="rotate(-53.9 747.7 625.9)"/>
<ellipse class="m" cx="748.3" cy="626.1" rx="34" ry="25" transform="rotate(-52.4 748.3 626.1)"/>
<path class="m" d="M768.0,568.0 C770.0,567.5 776.7,564.5 780.0,565.0 C783.3,565.5 786.0,568.2 788.0,571.0 C790.0,573.8 791.0,577.8 792.0,582.0 C793.0,586.2 793.7,591.3 794.0,596.0 C794.3,600.7 794.0,607.7 794.0,610.0"/>
<path class="t" d="M771.0,570.0 C772.8,570.2 779.0,569.0 782.0,571.0 C785.0,573.0 787.5,577.8 789.0,582.0 C790.5,586.2 790.7,593.7 791.0,596.0"/>
<path class="t" d="M681.4,576.0 C682.9,579.0 688.3,588.0 690.4,594.0 C692.5,600.0 693.4,606.0 694.0,612.0 C694.6,618.0 694.6,623.4 694.0,630.0 C693.4,636.6 691.6,645.6 690.4,651.6 C689.2,657.6 687.4,663.6 686.8,666.0"/>
<path class="t" d="M614.0,424.0 C616.7,424.2 624.0,424.2 630.0,425.0 C636.0,425.8 641.7,426.7 650.0,428.5 C658.3,430.3 670.0,433.1 680.0,436.0 C690.0,438.9 701.0,442.3 710.0,446.0 C719.0,449.7 726.3,453.0 734.0,458.0 C741.7,463.0 748.4,469.5 756.0,476.0 C763.6,482.5 775.7,493.5 779.6,497.0"/>
<path class="m" d="M779.6,496.6 C779.3,497.0 783.6,496.4 778.0,499.0 C772.4,501.6 756.0,507.0 746.0,512.0 C736.0,517.0 725.2,524.6 718.0,529.0 C710.8,533.4 705.2,537.0 702.6,538.6"/>
<path class="t" d="M778.2,501.0 C772.8,503.3 756.0,509.8 746.0,515.0 C736.0,520.2 725.0,527.7 718.0,532.0 C711.0,536.3 706.3,539.5 704.0,541.0"/>
<path class="m" d="M704.0,547.0 C708.7,544.7 722.7,536.7 732.0,533.0 C741.3,529.3 751.8,526.8 760.0,525.0 C768.2,523.2 776.8,522.3 781.0,522.0 C785.2,521.7 784.3,522.8 785.0,523.0"/>
<path class="t" d="M779.6,500.0 C781.0,503.2 784.8,513.5 788.0,519.0 C791.2,524.5 795.7,528.2 799.0,533.0 C802.3,537.8 805.9,544.2 807.6,548.0 C809.3,551.8 809.0,552.7 809.0,556.0 C809.0,559.3 808.8,563.7 807.6,568.0 C806.4,572.3 803.9,578.0 802.0,582.0 C800.1,586.0 798.2,588.5 796.4,592.0 C794.6,595.5 791.9,601.2 791.0,603.0"/>
<path class="t" d="M779.6,506.4 C781.0,509.2 785.0,518.1 788.0,523.2 C791.0,528.3 795.7,533.0 797.8,537.2 C799.9,541.4 800.4,544.9 800.6,548.4 C800.8,551.9 799.7,554.7 799.0,558.0 C798.3,561.3 797.3,562.6 796.4,568.0 C795.5,573.4 794.1,586.7 793.6,590.4"/>
<path class="k" d="M500.0,456.0 C503.3,454.8 513.3,451.5 520.0,449.0 C526.7,446.5 533.3,443.3 540.0,441.0 C546.7,438.7 553.3,437.0 560.0,435.0 C566.7,433.0 573.3,430.7 580.0,429.0 C586.7,427.3 594.3,425.8 600.0,425.0 C605.7,424.2 611.7,424.2 614.0,424.0"/>
<path class="t" d="M534.0,447.0 C536.7,446.3 544.0,444.5 550.0,443.0 C556.0,441.5 563.3,439.5 570.0,438.0 C576.7,436.5 585.0,434.9 590.0,434.0 C595.0,433.1 593.7,433.5 600.0,432.5 C606.3,431.5 623.3,428.8 628.0,428.0"/>
<path class="k" d="M520.0,451.0 C521.3,451.1 525.0,451.5 527.5,451.8 C530.0,452.0 532.4,452.3 534.9,452.7 C537.3,453.0 539.7,453.3 542.1,453.7 C544.5,454.1 546.9,454.4 549.3,454.8 C551.6,455.3 554.0,455.7 556.3,456.1 C558.7,456.6 561.0,457.1 563.3,457.6 C565.7,458.1 568.0,458.6 570.3,459.2 C572.6,459.8 575.0,460.3 577.3,460.9 C579.6,461.6 581.9,462.2 584.2,462.9 C586.5,463.5 588.8,464.2 591.1,465.0 C593.4,465.7 595.7,466.4 598.0,467.2 C600.3,468.0 602.6,468.8 604.9,469.7 C607.2,470.5 609.4,471.4 611.7,472.3 C614.0,473.2 616.3,474.2 618.5,475.2 C620.8,476.1 623.0,477.2 625.2,478.2 C627.4,479.3 629.7,480.4 631.9,481.5 C634.0,482.6 636.2,483.8 638.4,485.0 C640.5,486.2 642.6,487.5 644.7,488.8 C646.8,490.1 648.9,491.4 650.9,492.8 C652.9,494.2 654.9,495.6 656.9,497.1 C658.8,498.6 660.7,500.1 662.6,501.7 C664.4,503.2 666.2,504.9 667.9,506.5 C669.7,508.2 671.3,509.9 672.9,511.7 C674.5,513.5 676.1,515.3 677.5,517.2 C679.0,519.1 680.3,521.0 681.6,523.0 C682.9,525.0 684.1,527.1 685.2,529.2 C686.2,531.3 687.2,533.5 688.1,535.7 C689.0,538.0 689.7,540.3 690.3,542.7 C691.0,545.0 691.6,548.8 691.8,550.0"/>
<path class="m" d="M525.0,449.0 C526.3,448.9 530.3,448.7 532.8,448.7 C535.4,448.6 537.9,448.7 540.5,448.8 C543.0,448.9 545.4,449.0 547.9,449.3 C550.4,449.5 552.8,449.8 555.2,450.1 C557.7,450.4 560.1,450.8 562.4,451.2 C564.8,451.7 567.2,452.1 569.6,452.7 C571.9,453.2 574.3,453.8 576.7,454.4 C579.0,455.0 581.3,455.7 583.7,456.3 C586.0,457.0 588.3,457.8 590.7,458.5 C593.0,459.3 595.3,460.1 597.6,461.0 C599.9,461.8 602.2,462.7 604.5,463.6 C606.9,464.5 609.2,465.4 611.5,466.4 C613.8,467.4 616.0,468.4 618.3,469.4 C620.6,470.4 622.9,471.5 625.2,472.6 C627.4,473.7 629.7,474.8 631.9,476.0 C634.2,477.1 636.4,478.3 638.6,479.5 C640.8,480.7 643.0,482.0 645.2,483.3 C647.4,484.5 649.6,485.9 651.7,487.2 C653.8,488.5 655.9,489.9 658.0,491.3 C660.1,492.8 662.1,494.2 664.1,495.7 C666.1,497.2 668.1,498.7 670.0,500.3 C671.9,501.9 673.8,503.5 675.6,505.1 C677.5,506.8 679.2,508.5 680.9,510.2 C682.6,512.0 684.3,513.8 685.8,515.6 C687.4,517.5 688.9,519.4 690.3,521.4 C691.7,523.3 693.1,525.3 694.3,527.4 C695.5,529.5 696.7,531.6 697.7,533.9 C698.8,536.1 699.7,538.3 700.5,540.7 C701.3,543.1 702.3,546.8 702.6,548.0" style="stroke-width:1.6"/>
<path class="m" d="M500.0,457.0 C501.3,457.0 505.4,457.1 508.0,457.2 C510.7,457.4 513.3,457.5 515.8,457.7 C518.4,458.0 521.0,458.2 523.5,458.5 C526.0,458.8 528.5,459.1 531.0,459.5 C533.5,459.9 536.0,460.3 538.5,460.7 C540.9,461.2 543.4,461.7 545.8,462.2 C548.3,462.7 550.7,463.2 553.1,463.8 C555.6,464.4 558.0,465.0 560.4,465.6 C562.8,466.3 565.3,466.9 567.7,467.7 C570.1,468.4 572.5,469.1 574.9,469.9 C577.4,470.6 579.8,471.4 582.2,472.2 C584.6,473.1 587.0,473.9 589.4,474.8 C591.8,475.7 594.2,476.6 596.6,477.6 C599.0,478.5 601.4,479.5 603.8,480.5 C606.2,481.5 608.6,482.6 610.9,483.6 C613.3,484.7 615.7,485.8 618.0,487.0 C620.3,488.1 622.6,489.3 624.9,490.6 C627.2,491.8 629.5,493.0 631.7,494.3 C634.0,495.7 636.2,497.0 638.4,498.4 C640.5,499.8 642.7,501.2 644.8,502.7 C646.8,504.2 648.9,505.7 650.9,507.3 C652.9,508.8 654.8,510.5 656.7,512.1 C658.6,513.8 660.4,515.6 662.1,517.3 C663.9,519.1 665.5,521.0 667.1,522.9 C668.7,524.8 670.2,526.8 671.6,528.8 C673.0,530.9 674.3,533.0 675.4,535.2 C676.6,537.4 677.7,539.6 678.6,542.0 C679.6,544.3 680.4,546.7 681.1,549.2 C681.8,551.7 682.4,555.7 682.7,557.0" style="stroke-width:1.6"/>
<path class="t" d="M457.0,459.0 C464.2,460.8 487.8,465.8 500.0,470.0 C512.2,474.2 520.0,478.0 530.0,484.0 C540.0,490.0 551.7,499.3 560.0,506.0 C568.3,512.7 575.0,518.8 580.0,524.0 C585.0,529.2 588.3,534.8 590.0,537.0"/>
<path class="t" d="M683.0,560.0 C684.2,559.3 686.8,557.8 690.0,556.0 C693.2,554.2 700.0,550.2 702.0,549.0"/>
<ellipse cx="615.3" cy="461.7" rx="1.8" ry="1.1"/>
<path class="m" d="M693.0,633.6 C692.5,636.0 690.8,643.6 690.0,648.0 C689.2,652.4 689.5,656.4 688.4,660.0 C687.3,663.6 684.4,668.0 683.6,669.6"/>
<path class="t" d="M686.0,656.0 L698.0,652.0 L697.0,664.0 L688.0,670.0"/>
<path class="m" d="M690.0,668.0 L698.0,660.0"/>
<path class="k" d="M676.0,676.0 C677.0,675.1 680.1,671.8 682.0,670.5 C683.9,669.2 685.3,668.2 687.5,668.0 C689.7,667.8 692.9,670.0 695.0,669.0 C697.1,668.0 698.8,664.6 700.0,662.0 C701.2,659.4 702.1,654.9 702.5,653.5"/>
<path class="m" d="M691.0,669.0 L696.5,654.0 L699.0,653.5"/>
<path class="t" d="M686.0,668.0 L692.0,657.0 L699.0,651.0"/>
<path class="t" d="M700.5,661.0 L707.5,665.0"/>
<path class="m" d="M269.6,392.0 L333.5,515.0"/>
<path class="m" d="M378.9,340.4 L394.0,551.0"/>
<path class="t" d="M548.8,259.0 L480.5,491.0" style="stroke-width:1.6"/>
<path class="k" d="M699.8,382.0 L520.0,501.0"/>
<path class="k" d="M668.8,627.5 L844.6,660.8"/>
<path class="k" d="M212.5,730.0 L144.6,830.7"/>
<path class="k" d="M511.0,725.0 L469.0,926.0"/>
<path class="k" d="M652.5,652.5 L710.0,790.0"/>
<path class="m" d="M114.0,255.0 C112.3,256.3 106.8,259.5 104.0,263.0 C101.2,266.5 98.5,272.7 97.0,276.0 C95.5,279.3 95.2,281.0 95.0,283.0 C94.8,285.0 95.8,287.2 96.0,288.0"/>
<path class="m" d="M114.0,255.0 L140.0,267.0 L142.0,275.0 L196.0,300.0 L198.0,298.0 L297.0,351.0 L272.0,393.0 L194.0,347.6 L192.0,340.0 L172.0,328.0 L114.0,297.0 L96.0,288.0"/>
<path class="t" d="M116.0,299.0 L116.0,303.0 L172.0,334.0 L174.0,333.0"/>
<path class="t" d="M96.0,284.6 L194.4,331.4"/>
<path class="t" d="M97.0,276.0 L140.0,296.0 L198.0,324.0"/>
<path class="t" d="M104.0,263.0 L140.0,280.0 L142.0,275.0"/>
<path class="t" d="M140.0,267.0 L140.0,280.0"/>
<path class="t" d="M122.0,261.0 L116.0,272.0 L132.0,279.0 L140.0,268.0"/>
<path class="t" d="M142.0,280.0 L188.0,301.0 L186.0,306.0 L142.0,286.0"/>
<path class="t" d="M192.0,345.0 L198.0,329.6 L212.4,309.2 L216.0,308.0"/>
<path class="t" d="M196.0,300.0 L192.0,307.0 L192.0,345.0"/>
<path class="t" d="M216.0,308.0 L290.0,347.0"/>
<path class="t" d="M290.0,347.0 L268.0,388.0"/>
<path class="t" d="M196.0,352.0 L270.0,389.0"/>
<path class="k" d="M221,318 L236,325 L224,345 L209,338 Z" style="stroke-width:2.8"/>
<path class="m" d="M223.0,322.0 L232.0,326.0 L226.0,336.0 L217.0,332.0 L223.0,322.0"/>
<path d="M219,333 L226,336 L224,339 Z"/>
<path class="t" d="M212.0,337.0 L224.0,343.0"/>
<path d="M243,328 L281,347.5 L267,373 L229,351.5 Z" style="fill:none;stroke:#000;stroke-width:3;stroke-linejoin:round"/>
<path class="m" d="M235.0,348.0 L264.0,364.0"/>
<path class="t" d="M236.0,351.0 L263.0,366.5"/>
<path class="m" d="M82.2,343.2 L96.1,324.0 L88.8,318.8 L74.9,338.0Z" style="stroke-width:2.1"/>
<path class="m" d="M76.2,350.5 L81.7,342.9 L75.4,338.3 L69.9,345.9Z" style="stroke-width:1.9"/>
<path class="m" d="M95.6,323.7 L101.1,316.1 L94.8,311.5 L89.3,319.1Z" style="stroke-width:1.9"/>
<circle cx="72.0" cy="349.6" r="2.7"/>
<circle cx="99.0" cy="312.4" r="2.7"/>
<path class="t" d="M76.4,339.0 L90.3,319.8" style="stroke-width:0.9"/>
<path class="m" d="M227.1,423.4 L240.6,401.3 L232.9,396.6 L219.4,418.7Z" style="stroke-width:2.1"/>
<path class="m" d="M221.3,431.8 L226.6,423.1 L219.9,419.0 L214.6,427.8Z" style="stroke-width:1.9"/>
<path class="m" d="M240.1,401.0 L245.4,392.2 L238.7,388.2 L233.4,396.9Z" style="stroke-width:1.9"/>
<circle cx="217.0" cy="431.4" r="2.7"/>
<circle cx="243.0" cy="388.6" r="2.7"/>
<path class="t" d="M221.0,419.6 L234.4,397.6" style="stroke-width:0.9"/>
<g transform="translate(396.7,312) rotate(27.5)">
<rect class="t" x="-70" y="-32" width="140" height="64" rx="31" ry="31"/>
<rect class="t" x="-63" y="-25" width="126" height="50" rx="24" ry="24"/>
<rect x="-60" y="-22" width="120" height="44" rx="21" ry="21" style="fill:none;stroke:#000;stroke-width:2.6"/>
<rect class="t" x="-57" y="-19" width="114" height="38" rx="18" ry="18"/>
<ellipse class="t" cx="-44" cy="-6" rx="6" ry="7.5" transform="rotate(-10 -44 -6)"/>
<path class="m" d="M-70,-6 L-79,-7 L-82,-2 L-82,6 L-79,10 L-70,9"/>
<path class="m" d="M-76,-4 L-76,7" style="stroke-width:2.5"/>
<path class="m" d="M70,-9 L77,-10 L81,-5 L80,2 L76,5 L70,5"/>
<path class="t" d="M75,-8 L75,3"/>
<path class="t" d="M0,-32 L0,-24 M-3,22 L-3,32"/>
</g>
<path class="m" d="M509.0,210.0 C514.3,206.1 514.6,205.0 524.8,207.0 C535.0,209.0 556.1,216.8 570.0,222.0 C583.9,227.2 599.5,233.9 608.0,238.2 C616.5,242.5 618.0,244.3 620.8,247.8 C623.6,251.3 624.6,254.0 624.8,259.0 C625.0,264.0 623.5,272.7 622.0,278.0 C620.5,283.3 621.0,287.2 616.0,291.0 C611.0,294.8 604.7,302.1 592.0,300.6 C579.3,299.1 555.5,288.4 540.0,282.0 C524.5,275.6 507.9,268.4 499.2,262.2 C490.5,256.0 489.1,249.9 488.0,244.6 C486.9,239.3 489.3,236.0 492.8,230.2 C496.3,224.4 503.7,213.9 509.0,210.0Z"/>
<path class="k" d="M499.2,227.0 C501.3,221.9 507.2,215.3 512.0,212.6 C516.8,209.9 520.0,209.9 528.0,211.0 C536.0,212.1 546.7,214.7 560.0,219.0 C573.3,223.3 598.4,232.1 608.0,236.6 C617.6,241.1 616.5,241.9 617.6,246.2 C618.7,250.5 615.5,256.3 614.4,262.2 C613.3,268.1 613.6,277.1 611.2,281.4 C608.8,285.7 605.3,287.3 600.0,287.8 C594.7,288.3 584.0,286.7 579.2,284.6 C574.4,282.5 573.1,278.7 571.2,275.0 C569.3,271.3 569.9,265.4 568.0,262.2 C566.1,259.0 564.0,257.7 560.0,255.8 C556.0,253.9 548.5,251.9 544.0,251.0 C539.5,250.1 535.5,249.7 532.8,250.2 C530.1,250.7 531.5,253.3 528.0,254.2 C524.5,255.1 516.8,257.7 512.0,255.8 C507.2,253.9 501.3,247.8 499.2,243.0 C497.1,238.2 497.1,232.1 499.2,227.0Z"/>
<path class="t" d="M502.0,228.0 C504.0,223.8 509.7,218.2 514.0,216.0 C518.3,213.8 520.3,213.4 528.0,214.5 C535.7,215.6 547.0,218.3 560.0,222.5 C573.0,226.7 597.0,235.2 606.0,239.5 C615.0,243.8 613.2,244.1 614.0,248.0 C614.8,251.9 612.0,257.8 611.0,263.0 C610.0,268.2 610.0,275.4 608.0,279.0 C606.0,282.6 603.3,284.1 599.0,284.5 C594.7,284.9 586.2,283.4 582.0,281.5 C577.8,279.6 575.8,276.5 574.0,273.0 C572.2,269.5 573.0,263.9 571.0,260.5 C569.0,257.1 566.3,254.7 562.0,252.5 C557.7,250.3 550.0,248.4 545.0,247.5 C540.0,246.6 535.0,246.4 532.0,247.0 C529.0,247.6 530.2,250.1 527.0,251.0 C523.8,251.9 517.2,254.2 513.0,252.5 C508.8,250.8 503.8,245.1 502.0,241.0 C500.2,236.9 500.0,232.2 502.0,228.0Z"/>
<circle class="m" cx="535.2" cy="260.6" r="4.8"/>
<circle class="m" cx="558.4" cy="269.4" r="4.8"/>
<path class="t" d="M537.0,263.0 L533.0,259.0"/>
<path class="t" d="M560.0,272.0 L556.0,268.0"/>
<path class="t" d="M490.0,250.0 C491.7,252.2 491.7,258.0 500.0,263.0 C508.3,268.0 525.0,274.3 540.0,280.0 C555.0,285.7 578.0,295.2 590.0,297.0 C602.0,298.8 608.3,292.0 612.0,291.0"/>
<path class="t" d="M505.0,258.0 L502.0,266.0"/>
<path class="t" d="M600.0,292.0 L598.0,299.0"/>
<path class="k" d="M683.8,228.3 Q685.0,225.5 687.8,226.6 L707.3,234.5 Q711.0,236.0 712.1,239.9 L712.9,243.1 Q714.0,247.0 712.4,250.7 L677.0,332.5 Q674.6,338.0 669.2,335.4 L658.5,330.1 Q652.0,327.0 650.3,320.0 L649.6,317.3 Q648.5,313.0 650.0,308.8 L650.5,307.4 Q651.5,304.6 652.7,301.8Z"/>
<path class="t" d="M689.6,230.8 C688.1,233.1 683.5,238.4 680.4,244.6 C677.3,250.8 674.0,260.0 671.1,267.7 C668.2,275.4 664.7,284.5 663.0,290.7 C661.3,296.9 660.4,300.8 660.8,304.6 C661.2,308.5 662.3,310.7 665.4,313.8 C668.5,316.9 676.9,321.5 679.2,323.0"/>
<path class="t" d="M709.5,246.0 L678.5,325.0 L676.0,333.0"/>
<circle class="m" cx="693.5" cy="249" r="13.3"/>
<path class="m" d="M700.2,222.5 Q700.5,221.0 701.9,221.5 L714.6,225.5 Q716.0,226.0 715.5,227.4 L713.0,235.1 Q712.5,236.5 711.1,236.1 L699.4,232.4 Q698.0,232.0 698.3,230.5Z"/>
<path class="t" d="M700.0,225.0 L714.5,229.5"/>
<path class="k" d="M805.4,285.6 Q806.0,284.8 807.0,285.1 L837.6,293.0 Q839.5,293.5 838.8,295.4 L808.2,372.5 Q806.0,378.0 800.5,380.2 L800.5,380.3 Q795.0,382.5 789.3,380.8 L770.9,375.4 Q768.0,374.5 769.1,371.7 L798.3,296.3 Q800.0,292.0 803.0,288.4Z"/>
<path class="t" d="M836.2,296.0 L809.5,368.0"/>
<path class="t" d="M820.4,317.5 C819.0,321.2 815.0,332.6 812.0,340.0 C809.0,347.4 805.3,357.7 802.6,362.1 C799.9,366.5 800.2,366.5 795.6,366.5 C791.0,366.5 778.4,362.8 774.9,362.1"/>
<path class="t" d="M774.9,362.1 L770.0,373.0"/>
<circle class="m" cx="815.4" cy="302.7" r="13.9"/>
<path class="m" d="M819.1,275.4 Q819.5,274.0 820.9,274.5 L831.6,278.0 Q833.0,278.5 832.7,280.0 L831.3,286.5 Q831.0,288.0 829.5,287.7 L818.0,285.3 Q816.5,285.0 816.9,283.6Z"/>
<path class="t" d="M819.0,278.5 L832.0,282.5"/>
<path class="m" d="M719.2,332.7 L730.7,311.6 L722.8,307.3 L711.3,328.4Z" style="stroke-width:2.1"/>
<path class="m" d="M714.1,340.8 L718.7,332.4 L711.8,328.7 L707.3,337.1Z" style="stroke-width:1.9"/>
<path class="m" d="M730.2,311.3 L734.7,302.9 L727.9,299.2 L723.3,307.6Z" style="stroke-width:1.9"/>
<circle cx="709.8" cy="340.5" r="2.7"/>
<circle cx="732.2" cy="299.5" r="2.7"/>
<path class="t" d="M712.9,329.3 L724.4,308.1" style="stroke-width:0.9"/>
<path class="m" d="M748.0,344.3 L759.0,322.7 L751.0,318.7 L740.0,340.3Z" style="stroke-width:2.1"/>
<path class="m" d="M743.1,352.6 L747.5,344.1 L740.5,340.5 L736.1,349.1Z" style="stroke-width:1.9"/>
<path class="m" d="M758.5,322.5 L762.9,313.9 L755.9,310.4 L751.5,318.9Z" style="stroke-width:1.9"/>
<circle cx="738.8" cy="352.4" r="2.7"/>
<circle cx="760.2" cy="310.6" r="2.7"/>
<path class="t" d="M741.6,341.1 L752.6,319.5" style="stroke-width:0.9"/>
<path class="k" d="M699.8,382.0 L672.5,339.0"/>
<path class="k" d="M699.8,382.0 L712.0,343.0"/>
<path class="k" d="M699.8,382.0 L740.0,354.0"/>
<path class="k" d="M699.8,382.0 L768.0,374.0"/>
<path class="m" d="M797.0,700.0 C796.4,698.4 785.7,697.1 793.6,690.6 C801.5,684.1 827.9,670.1 844.6,660.8 C861.3,651.4 885.8,638.9 894.0,634.5"/>
<path class="k" d="M894.0,634.5 C896.5,634.9 904.8,635.8 909.0,637.0 C913.2,638.2 916.7,639.7 919.5,642.0 C922.3,644.3 924.1,646.9 926.0,650.6 C927.9,654.3 929.3,657.3 931.0,664.0 C932.7,670.7 934.8,684.5 936.0,691.0 C937.2,697.5 938.2,700.2 938.0,703.0 C937.8,705.8 935.2,706.8 934.7,707.6"/>
<path class="k" d="M934.7,707.6 C925.9,712.3 898.7,726.4 882.0,735.6 C865.3,744.8 843.2,758.1 834.4,762.9 C825.6,767.7 829.9,764.3 829.0,764.6"/>
<path class="m" d="M829.0,764.6 C828.3,764.0 826.1,762.4 825.0,761.0 C823.9,759.6 824.3,761.1 822.5,756.0 C820.7,750.9 816.8,737.9 814.0,730.5 C811.2,723.1 808.3,716.9 805.5,711.8 C802.7,706.7 799.1,702.8 797.0,700.0 C794.9,697.2 793.4,696.4 792.8,694.8 C792.2,693.2 793.5,691.3 793.6,690.6"/>
<path class="t" d="M796.0,694.8 C797.3,695.9 800.8,697.9 803.8,701.6 C806.8,705.3 810.9,710.8 814.0,717.0 C817.1,723.2 820.0,731.7 822.5,739.0 C825.0,746.3 827.9,757.3 829.0,761.0"/>
<path class="t" d="M803.8,700.0 L907.5,639.6"/>
<path class="t" d="M822.5,742.4 L931.4,675.3"/>
<path class="m" d="M800.5,711.4 Q800.0,710.0 801.4,710.6 L803.6,711.4 Q805.0,712.0 805.6,713.4 L808.4,720.6 Q809.0,722.0 807.7,722.7 L806.3,723.3 Q805.0,724.0 804.5,722.6Z"/>
<path class="m" d="M799.0,703.0 L802.0,706.0"/>
<path class="m" d="M67.6,812.0 L239.0,882.4 L227.0,929.7 L61.4,852.0 L67.6,812.0" style="stroke-width:2.3"/>
<path class="m" d="M67.6,812.0 L69.0,807.5 L75.0,806.0 L247.0,873.0 L239.0,882.4"/>
<path class="t" d="M72.0,809.5 L243.0,877.0"/>
<path class="m" d="M90.0,813.0 L91.0,809.5 L112.0,818.5 L113.0,822.0" style="stroke-width:1.7"/>
<path class="m" d="M116.0,822.0 L117.0,818.5 L135.0,826.5 L136.0,830.0" style="stroke-width:1.7"/>
<path class="m" d="M160.0,840.0 L161.0,836.5 L179.0,844.5 L180.0,848.0" style="stroke-width:1.7"/>
<path class="m" d="M202.0,857.0 L203.0,853.5 L218.0,860.5 L219.0,864.0" style="stroke-width:1.7"/>
<path class="m" d="M100.0,813.0 L104.0,810.0 L108.0,812.0"/>
<path class="m" d="M122.0,824.0 L128.0,821.0 L132.0,824.0"/>
<path class="m" d="M207.0,857.0 L211.0,854.0 L215.0,858.0"/>
<path class="m" d="M239.0,882.4 L243.6,875.8 L255.7,878.0 L254.6,893.4 L243.6,904.4 L239.0,926.4 L227.0,929.7"/>
<path class="m" d="M243.0,880.0 L252.0,882.0 L251.0,892.0"/>
<path class="m" d="M243.0,904.0 L246.0,893.0 L254.0,890.0"/>
<path class="m" d="M240.0,910.0 L247.0,906.0 L245.0,918.0"/>
<path class="t" d="M234.0,925.0 L240.0,905.0"/>
<path class="m" d="M638.0,806.0 C643.7,805.2 660.0,803.7 672.0,801.0 C684.0,798.3 697.3,795.2 710.0,790.0 C722.7,784.8 737.3,776.2 748.0,770.0 C758.7,763.8 769.0,756.0 774.0,753.0 C779.0,750.0 776.5,751.5 778.0,752.0 C779.5,752.5 782.2,755.3 783.0,756.0"/>
<path class="m" d="M783.0,756.0 C784.5,760.0 789.5,771.3 792.0,780.0 C794.5,788.7 797.2,801.7 798.0,808.0 C798.8,814.3 798.3,815.3 797.0,818.0 C795.7,820.7 794.8,820.3 790.0,824.0 C785.2,827.7 776.3,834.7 768.0,840.0 C759.7,845.3 749.3,851.7 740.0,856.0 C730.7,860.3 719.3,864.2 712.0,866.0 C704.7,867.8 703.3,867.0 696.0,867.0 C688.7,867.0 674.0,866.8 668.0,866.0 C662.0,865.2 662.0,863.3 660.0,862.0 C658.0,860.7 658.3,862.7 656.0,858.0 C653.7,853.3 649.2,841.7 646.0,834.0 C642.8,826.3 638.3,816.7 637.0,812.0 C635.7,807.3 637.8,807.0 638.0,806.0"/>
<path class="t" d="M671.6,802.0 L697.0,867.0"/>
<path class="t" d="M748.0,770.0 L768.0,839.0"/>
<path class="t" d="M791.0,777.0 L796.0,776.0 L799.0,792.0 L795.0,794.0"/>
<path class="m" d="M412.9,961.3 Q411.0,959.0 413.5,957.3 L517.5,888.7 Q520.0,887.0 521.8,889.4 L541.2,915.6 Q543.0,918.0 540.6,919.8 L442.4,993.2 Q440.0,995.0 438.1,992.7Z"/>
<path class="t" d="M414.0,963.0 L500.0,906.0"/>
<path class="m" d="M526.0,889.0 L568.3,865.0 Q570.0,864.0 572.0,864.3 L574.0,864.7 Q576.0,865.0 576.8,866.8 L581.3,876.6 Q582.0,878.0 581.5,879.5 L581.5,879.5 Q581.0,881.0 579.7,881.9 L540.0,909.0"/>
<path class="t" d="M553.0,875.0 L556.0,873.0"/>
<circle class="t" cx="547" cy="893" r="2.2"/>
<path class="m" d="M436.5,946.0 Q436.0,944.0 437.7,942.9 L495.5,904.6 Q498.0,903.0 501.0,903.0 L501.0,903.0 Q504.0,903.0 505.7,905.5 L519.1,924.8 Q520.0,926.0 520.0,927.5 L520.0,927.5 Q520.0,929.0 518.8,929.9 L462.4,970.3 Q460.0,972.0 457.0,972.0 L457.0,972.0 Q454.0,972.0 452.3,969.6 L438.2,949.7 Q437.0,948.0 436.5,946.0Z"/>
<path class="t" d="M441.9,948.3 Q440.0,946.0 442.5,944.3 L495.5,908.7 Q498.0,907.0 499.9,909.3 L514.1,926.7 Q516.0,929.0 513.5,930.7 L460.5,966.3 Q458.0,968.0 456.1,965.7Z"/>
<path class="t" d="M471.0,926.0 C473.2,924.3 479.2,918.7 484.0,916.0 C488.8,913.3 496.7,910.7 500.0,910.0 C503.3,909.3 502.0,909.3 504.0,912.0 C506.0,914.7 510.0,923.0 512.0,926.0 C514.0,929.0 515.3,929.3 516.0,930.0"/>
<path class="t" d="M516.0,930.0 C507.7,936.2 475.3,961.0 466.0,967.0 C456.7,973.0 461.7,966.8 460.0,966.0 C458.3,965.2 456.7,962.7 456.0,962.0"/>
<path class="t" d="M471.0,926.0 C471.5,927.3 472.8,931.0 474.0,934.0 C475.2,937.0 477.7,941.0 478.0,944.0 C478.3,947.0 477.0,950.2 476.0,952.0 C475.0,953.8 472.7,954.5 472.0,955.0"/>
<path class="t" d="M476.0,922.0 C476.7,923.3 478.7,926.3 480.0,930.0 C481.3,933.7 483.7,940.3 484.0,944.0 C484.3,947.7 479.3,952.7 482.0,952.0 C484.7,951.3 494.7,943.7 500.0,940.0 C505.3,936.3 511.7,931.7 514.0,930.0"/>
<path class="m" d="M470.0,960.0 L512.0,929.0"/>
<path class="m" d="M449.0,948.7 Q448.0,947.0 449.8,946.0 L457.2,942.0 Q459.0,941.0 460.0,942.7 L463.0,948.3 Q464.0,950.0 462.2,951.0 L454.8,955.0 Q453.0,956.0 452.0,954.3Z"/>
<circle cx="456" cy="948.5" r="2.2" style="fill:none;stroke:#000;stroke-width:1.3"/>
<path class="m" d="M508.4,903.0 Q508.0,900.0 510.8,899.1 L517.2,896.9 Q520.0,896.0 522.4,897.8 L525.6,900.2 Q528.0,902.0 529.5,904.6 L534.5,913.4 Q536.0,916.0 535.1,918.8 L534.9,919.2 Q534.0,922.0 531.2,923.1 L526.8,924.9 Q524.0,926.0 521.3,924.7 L518.7,923.3 Q516.0,922.0 514.7,919.3 L510.3,910.7 Q509.0,908.0 508.6,905.0Z"/>
<path class="m" d="M513.6,904.9 Q513.0,903.0 514.9,902.3 L519.1,900.7 Q521.0,900.0 522.4,901.4 L525.6,904.6 Q527.0,906.0 528.0,907.7 L531.0,913.3 Q532.0,915.0 530.5,916.3 L526.5,919.7 Q525.0,921.0 523.2,920.2 L519.8,918.8 Q518.0,918.0 517.4,916.1Z"/>
<path class="t" d="M516.0,909.0 L524.0,905.0"/>
</svg></body></html>
